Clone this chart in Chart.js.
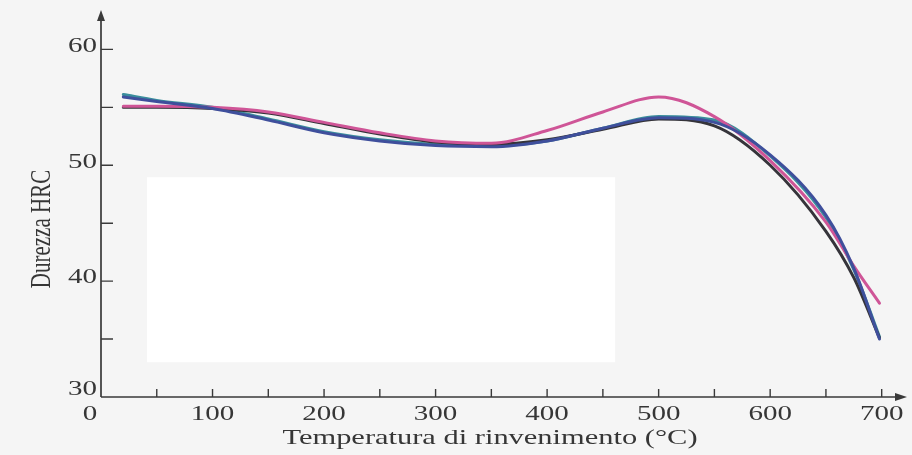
<!DOCTYPE html>
<html>
<head>
<meta charset="utf-8">
<script src="https://cdn.jsdelivr.net/npm/chart.js@4.4.1/dist/chart.umd.min.js"></script>
<style>
html,body{margin:0;padding:0;background:#f5f5f5;}
#wrap{width:912px;height:455px;}
</style>
</head>
<body>
<div id="wrap"><canvas id="c" width="912" height="455"></canvas></div>
<script>
// ---- data ----
const temperatures = [20, 50, 100, 150, 200, 250, 300, 350, 400, 450, 500, 550, 600, 650, 675, 698];
const hrcBlue  = [55.9, 55.5, 54.9, 53.9, 52.8, 52.1, 51.7, 51.6, 52.1, 53.2, 54.1, 53.7, 50.9, 45.7, 41.1, 35.0];
const hrcPink  = [55.1, 55.1, 55.0, 54.6, 53.7, 52.8, 52.1, 51.9, 53.0, 54.6, 55.9, 54.2, 50.4, 45.1, 41.3, 38.1];
const hrcBlack = [55.0, 55.0, 54.9, 54.5, 53.6, 52.7, 52.0, 51.8, 52.2, 53.1, 54.0, 53.4, 50.0, 44.3, 40.3, 35.1];
const hrcTeal  = [56.1, 55.6, 55.0, 54.0, 52.9, 52.2, 51.8, 51.7, 52.1, 53.2, 54.2, 53.9, 50.8, 45.5, 41.0, 35.2];

const xTickLabels = [0, 100, 200, 300, 400, 500, 600, 700];
const xTickMarks  = [50, 100, 150, 200, 250, 300, 350, 400, 450, 500, 550, 600, 650, 700];
const yTickLabels = [30, 40, 50, 60];
const yTickMarks  = [35, 40, 45, 50, 55, 60];
const xTitle = 'Temperatura di rinvenimento (°C)';
const yTitle = 'Durezza HRC';

// ---- styling ----
const STRETCH = 1.45;           // scanned picture is stretched horizontally
const TEXT_COLOR = '#363636';
const AXIS_COLOR = '#3a3a3a';
const FONT = '20px "Liberation Serif", "Times New Roman", serif';
const TITLE_FONT = '21px "Liberation Serif", "Times New Roman", serif';

function pts(vals) { return temperatures.map((t, i) => ({ x: t, y: vals[i] })); }

function wideText(ctx, text, x, y, align, baseline) {
  ctx.save();
  ctx.translate(x, y);
  ctx.scale(STRETCH, 1);
  ctx.textAlign = align;
  ctx.textBaseline = baseline;
  ctx.fillText(text, 0, 0);
  ctx.restore();
}

const decor = {
  id: 'decor',
  beforeDraw(chart) {
    const ctx = chart.ctx;
    const xs = chart.scales.x, ys = chart.scales.y;
    ctx.save();
    ctx.fillStyle = '#f5f5f5';
    ctx.fillRect(0, 0, chart.width, chart.height);
    // white patch covering part of the scan
    const l = xs.getPixelForValue(41.3), r = xs.getPixelForValue(461);
    const t = ys.getPixelForValue(48.97), b = ys.getPixelForValue(33.0);
    ctx.fillStyle = '#ffffff';
    ctx.fillRect(l, t, r - l, b - t);
    ctx.restore();
  },
  beforeDatasetsDraw(chart) {
    const ctx = chart.ctx;
    const xs = chart.scales.x, ys = chart.scales.y;
    const x0 = xs.getPixelForValue(0);
    const y0 = ys.getPixelForValue(30);
    const top = chart.chartArea.top;
    const right = chart.chartArea.right + 3;
    ctx.save();
    ctx.strokeStyle = AXIS_COLOR;
    ctx.fillStyle = AXIS_COLOR;
    ctx.lineWidth = 1.7;
    // axes
    ctx.beginPath();
    ctx.moveTo(x0, y0); ctx.lineTo(x0, top + 6);
    ctx.moveTo(x0, y0); ctx.lineTo(right - 8, y0);
    ctx.stroke();
    // arrow heads
    ctx.beginPath();
    ctx.moveTo(x0, top); ctx.lineTo(x0 - 4, top + 11); ctx.lineTo(x0 + 4, top + 11); ctx.closePath();
    ctx.fill();
    ctx.beginPath();
    ctx.moveTo(right, y0); ctx.lineTo(right - 12, y0 - 4); ctx.lineTo(right - 12, y0 + 4); ctx.closePath();
    ctx.fill();
    // tick marks (inward)
    ctx.lineWidth = 1.4;
    ctx.beginPath();
    yTickMarks.forEach(v => {
      const y = ys.getPixelForValue(v);
      ctx.moveTo(x0, y); ctx.lineTo(x0 + 12, y);
    });
    xTickMarks.forEach(v => {
      const x = xs.getPixelForValue(v);
      ctx.moveTo(x, y0); ctx.lineTo(x, y0 - 8);
    });
    ctx.stroke();
    ctx.restore();
  },
  afterDraw(chart) {
    const ctx = chart.ctx;
    const xs = chart.scales.x, ys = chart.scales.y;
    const x0 = xs.getPixelForValue(0);
    const y0 = ys.getPixelForValue(30);
    ctx.save();
    ctx.fillStyle = TEXT_COLOR;
    ctx.font = FONT;
    yTickLabels.forEach(v => {
      const y = Math.min(ys.getPixelForValue(v) - 3, y0 - 7);
      wideText(ctx, String(v), x0 - 4, y, 'right', 'middle');
    });
    xTickLabels.forEach(v => {
      let x = xs.getPixelForValue(v);
      if (v === 0) x -= 11;
      wideText(ctx, String(v), x, y0 + 18, 'center', 'middle');
    });
    // x title
    ctx.font = TITLE_FONT;
    wideText(ctx, xTitle, 490, y0 + 41, 'center', 'middle');
    // y title (rotated; stretched across its thickness)
    ctx.save();
    ctx.translate(42, y0 - 168);
    ctx.rotate(-Math.PI / 2);
    ctx.scale(1, STRETCH);
    ctx.textAlign = 'center';
    ctx.textBaseline = 'middle';
    ctx.fillText(yTitle, 0, 0);
    ctx.restore();
    ctx.restore();
  }
};

const lineDefaults = {
  pointRadius: 0,
  borderWidth: 3,
  fill: false,
  cubicInterpolationMode: 'monotone',
  borderCapStyle: 'round'
};

new Chart(document.getElementById('c'), {
  type: 'line',
  data: {
    datasets: [
      Object.assign({ label: 'blue',  data: pts(hrcBlue),  borderColor: '#3f4f9c' }, lineDefaults),
      Object.assign({ label: 'pink',  data: pts(hrcPink),  borderColor: '#cf5597' }, lineDefaults),
      Object.assign({ label: 'black', data: pts(hrcBlack), borderColor: '#35343a' }, lineDefaults),
      Object.assign({ label: 'teal',  data: pts(hrcTeal),  borderColor: '#3a8e9c' }, lineDefaults)
    ]
  },
  options: {
    responsive: false,
    devicePixelRatio: 1,
    animation: false,
    layout: { padding: { left: 101, right: 8, top: 10, bottom: 58 } },
    plugins: { legend: { display: false }, tooltip: { enabled: false } },
    scales: {
      x: {
        type: 'linear', min: 0, max: 720,
        grid: { display: false, drawTicks: false },
        border: { display: false },
        ticks: { display: false },
        afterFit(s) { s.height = 0; }
      },
      y: {
        type: 'linear', min: 30, max: 63.4,
        grid: { display: false, drawTicks: false },
        border: { display: false },
        ticks: { display: false },
        afterFit(s) { s.width = 0; }
      }
    }
  },
  plugins: [decor]
});
</script>
</body>
</html>
